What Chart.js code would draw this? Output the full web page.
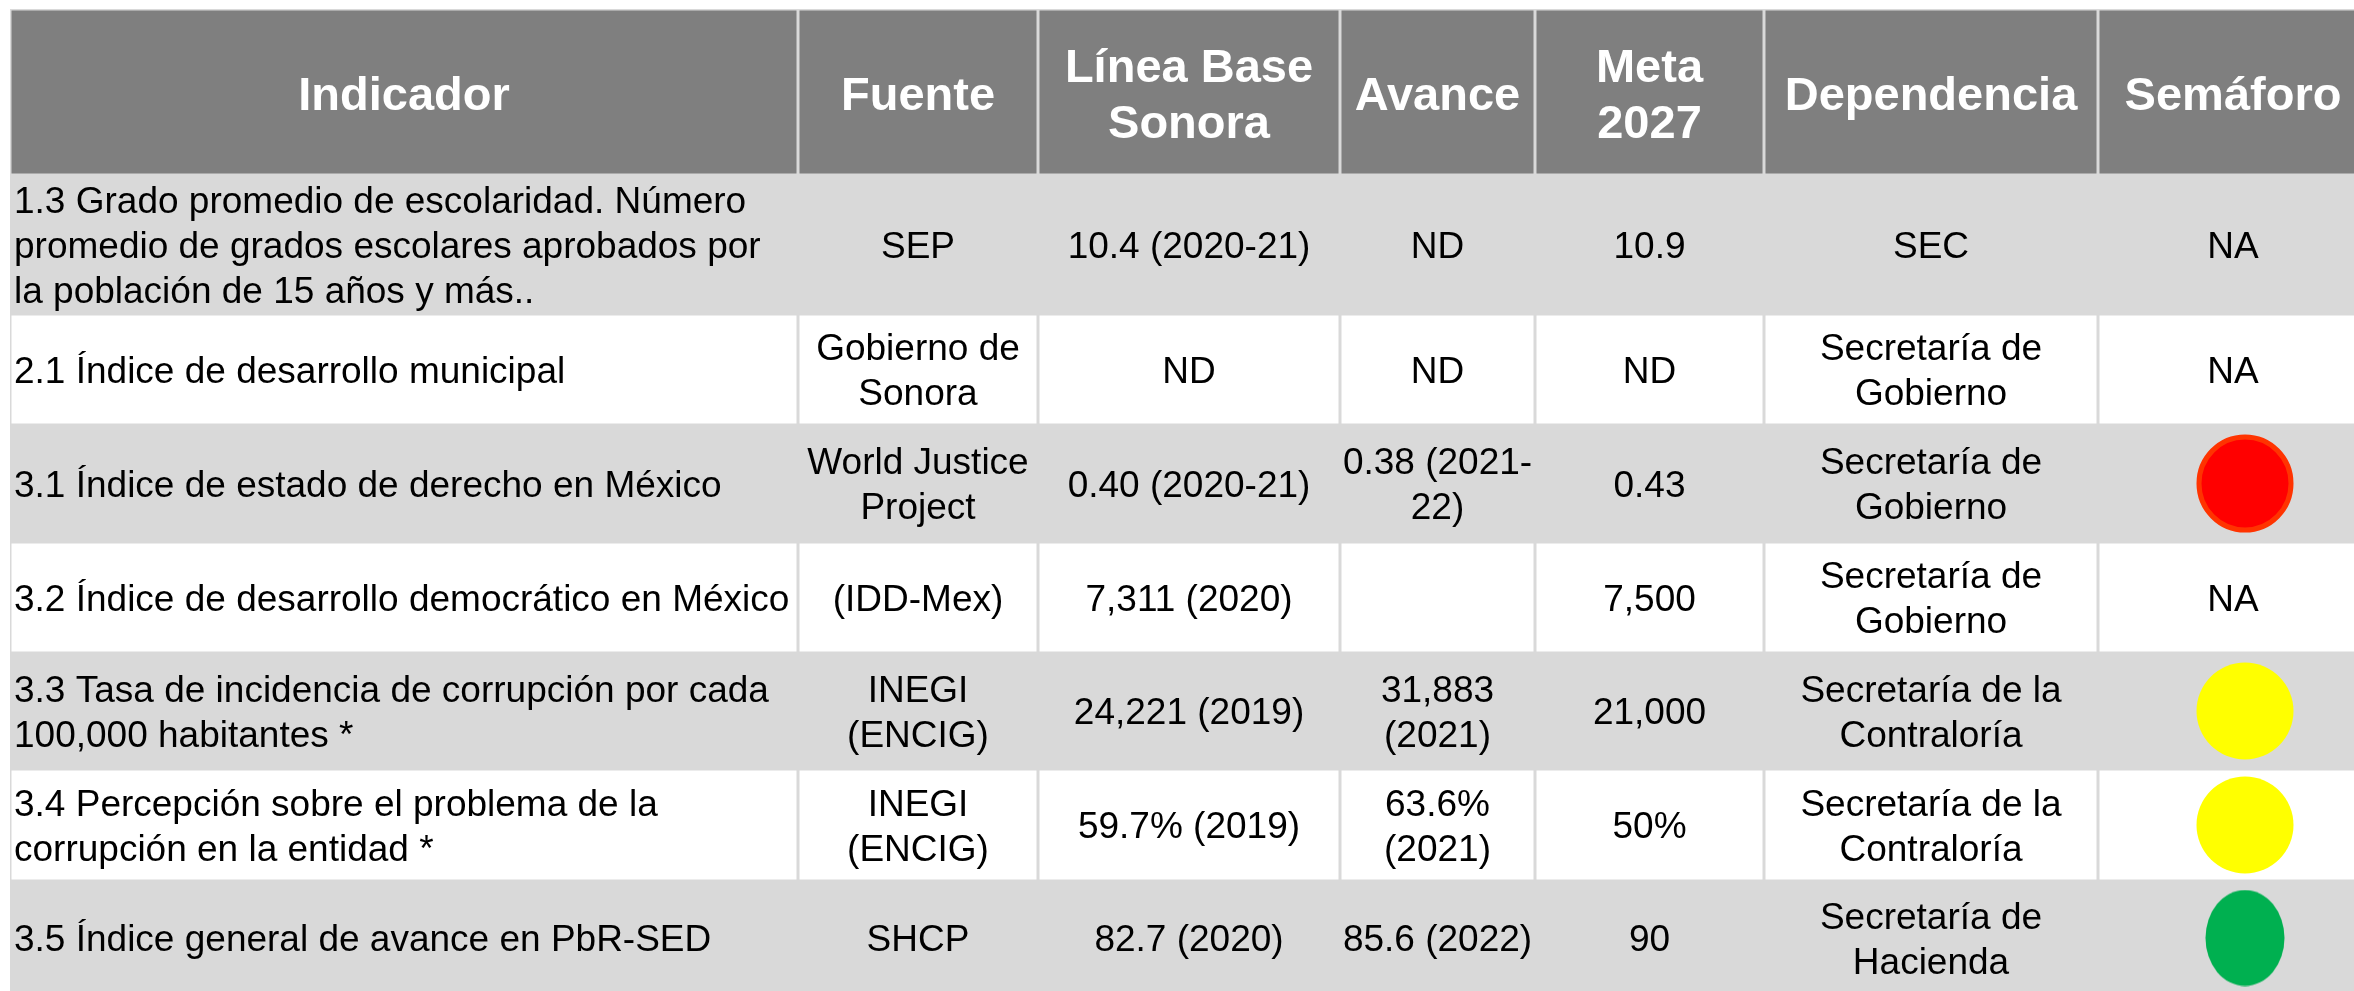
<!DOCTYPE html>
<html>
<head>
<meta charset="utf-8">
<script src="https://cdn.jsdelivr.net/npm/chart.js@4.4.1/dist/chart.umd.min.js"></script>
<style>
  html, body { margin: 0; padding: 0; background: #ffffff; }
  #wrap { width: 2354px; height: 991px; }
</style>
</head>
<body>
<div id="wrap"><canvas id="tabla" width="2354" height="991"></canvas></div>
<script>
// Table data
var encabezados = ['Indicador', 'Fuente', 'Línea Base\nSonora', 'Avance', 'Meta\n2027', 'Dependencia', 'Semáforo'];

var indicadores = [
  '1.3 Grado promedio de escolaridad. Número\npromedio de grados escolares aprobados por\nla población de 15 años y más..',
  '2.1 Índice de desarrollo municipal',
  '3.1 Índice de estado de derecho en México',
  '3.2 Índice de desarrollo democrático en México',
  '3.3 Tasa de incidencia de corrupción por cada\n100,000 habitantes *',
  '3.4 Percepción sobre el problema de la\ncorrupción en la entidad *',
  '3.5 Índice general de avance en PbR-SED'
];
var fuentes = ['SEP', 'Gobierno de\nSonora', 'World Justice\nProject', '(IDD-Mex)', 'INEGI\n(ENCIG)', 'INEGI\n(ENCIG)', 'SHCP'];
var lineaBase = ['10.4 (2020-21)', 'ND', '0.40 (2020-21)', '7,311 (2020)', '24,221 (2019)', '59.7% (2019)', '82.7 (2020)'];
var avances = ['ND', 'ND', '0.38 (2021-\n22)', '', '31,883\n(2021)', '63.6%\n(2021)', '85.6 (2022)'];
var metas = ['10.9', 'ND', '0.43', '7,500', '21,000', '50%', '90'];
var dependencias = ['SEC', 'Secretaría de\nGobierno', 'Secretaría de\nGobierno', 'Secretaría de\nGobierno',
  'Secretaría de la\nContraloría', 'Secretaría de la\nContraloría', 'Secretaría de\nHacienda'];
var semaforos = ['NA', 'NA', 'rojo', 'NA', 'amarillo', 'amarillo', 'verde'];

// layout (in scale units)
var colEdges = [10, 798, 1038, 1340, 1535, 1764, 2098, 2368];
var rowEdges = [9, 175, 314, 425, 542, 653, 769, 881, 995];

var FONT = '"Liberation Sans", Arial, sans-serif';
var bodySize = 37, headSize = 47;

function makeDot(w, h, fill, stroke, lw) {
  var c = document.createElement('canvas');
  c.width = w; c.height = h;
  var g = c.getContext('2d');
  g.beginPath();
  g.ellipse(w / 2, h / 2, w / 2 - lw / 2 - 0.5, h / 2 - lw / 2 - 0.5, 0, 0, Math.PI * 2);
  g.fillStyle = fill;
  g.fill();
  if (lw > 0) { g.lineWidth = lw; g.strokeStyle = stroke; g.stroke(); }
  return c;
}
var dots = {
  rojo: makeDot(98, 99, '#FF0000', '#FF3300', 5),
  amarillo: makeDot(98, 98, '#FFFF00', '#FFFF00', 0),
  verde: makeDot(80, 97, '#00B050', '#00B050', 0)
};

var filas = indicadores.map(function (ind, i) {
  return [ind, fuentes[i], lineaBase[i], avances[i], metas[i], dependencias[i],
    semaforos[i] === 'NA' ? 'NA' : ''];
});

var puntos = [], estilos = [];
semaforos.forEach(function (s, i) {
  if (s === 'NA') return;
  puntos.push({ x: (colEdges[6] + colEdges[7]) / 2 + 12, y: (rowEdges[i + 1] + rowEdges[i + 2]) / 2 });
  estilos.push(dots[s]);
});

function drawLines(ctx, text, cx, cy, size, lh, align) {
  var lines = text.split('\n');
  var cap = size * 0.716;
  var y0 = cy - (lines.length - 1) * lh / 2 + cap / 2;
  ctx.textAlign = align;
  ctx.textBaseline = 'alphabetic';
  lines.forEach(function (t, k) { ctx.fillText(t, cx, y0 + k * lh); });
}

var tablaPlugin = {
  id: 'tabla',
  beforeDatasetsDraw: function (chart) {
    var ctx = chart.ctx, sx = chart.scales.x, sy = chart.scales.y;
    var X = function (v) { return sx.getPixelForValue(v); };
    var Y = function (v) { return sy.getPixelForValue(v); };
    ctx.save();
    // border colour under everything
    ctx.fillStyle = '#D9D9D9';
    ctx.fillRect(X(colEdges[0]), Y(rowEdges[0]), X(colEdges[7]) - X(colEdges[0]), Y(rowEdges[8]) - Y(rowEdges[0]));
    for (var r = 0; r < rowEdges.length - 1; r++) {
      var fill = r === 0 ? '#7F7F7F' : (r % 2 === 1 ? '#D9D9D9' : '#FFFFFF');
      for (var c = 0; c < colEdges.length - 1; c++) {
        var x0 = X(colEdges[c]) + 1.5, x1 = X(colEdges[c + 1]) - 1.5;
        var y0 = Y(rowEdges[r]) + 1.5, y1 = Y(rowEdges[r + 1]) - 1.5;
        ctx.fillStyle = fill;
        ctx.fillRect(x0, y0, x1 - x0, y1 - y0);
      }
    }
    // header
    ctx.fillStyle = '#FFFFFF';
    ctx.font = 'bold ' + headSize + 'px ' + FONT;
    encabezados.forEach(function (h, c) {
      drawLines(ctx, h, (X(colEdges[c]) + X(colEdges[c + 1])) / 2, (Y(rowEdges[0]) + Y(rowEdges[1])) / 2 + 1, headSize, 56, 'center');
    });
    // body
    ctx.fillStyle = '#000000';
    ctx.font = bodySize + 'px ' + FONT;
    filas.forEach(function (fila, r) {
      var cy = (Y(rowEdges[r + 1]) + Y(rowEdges[r + 2])) / 2;
      fila.forEach(function (t, c) {
        if (!t) return;
        if (c === 0) drawLines(ctx, t, X(colEdges[0]) + 4, cy, bodySize, 45, 'left');
        else drawLines(ctx, t, (X(colEdges[c]) + X(colEdges[c + 1])) / 2, cy, bodySize, 45, 'center');
      });
    });
    ctx.restore();
  }
};

new Chart(document.getElementById('tabla'), {
  type: 'scatter',
  data: {
    datasets: [{
      label: 'Semáforo',
      data: puntos,
      pointStyle: estilos,
      pointRadius: 49,
      pointHoverRadius: 49
    }]
  },
  options: {
    responsive: false,
    animation: false,
    layout: { padding: 0, autoPadding: false },
    plugins: { legend: { display: false }, tooltip: { enabled: false } },
    scales: {
      x: { type: 'linear', min: 0, max: 2354, display: false },
      y: { type: 'linear', min: 0, max: 991, reverse: true, display: false }
    }
  },
  plugins: [tablaPlugin]
});
</script>
</body>
</html>
